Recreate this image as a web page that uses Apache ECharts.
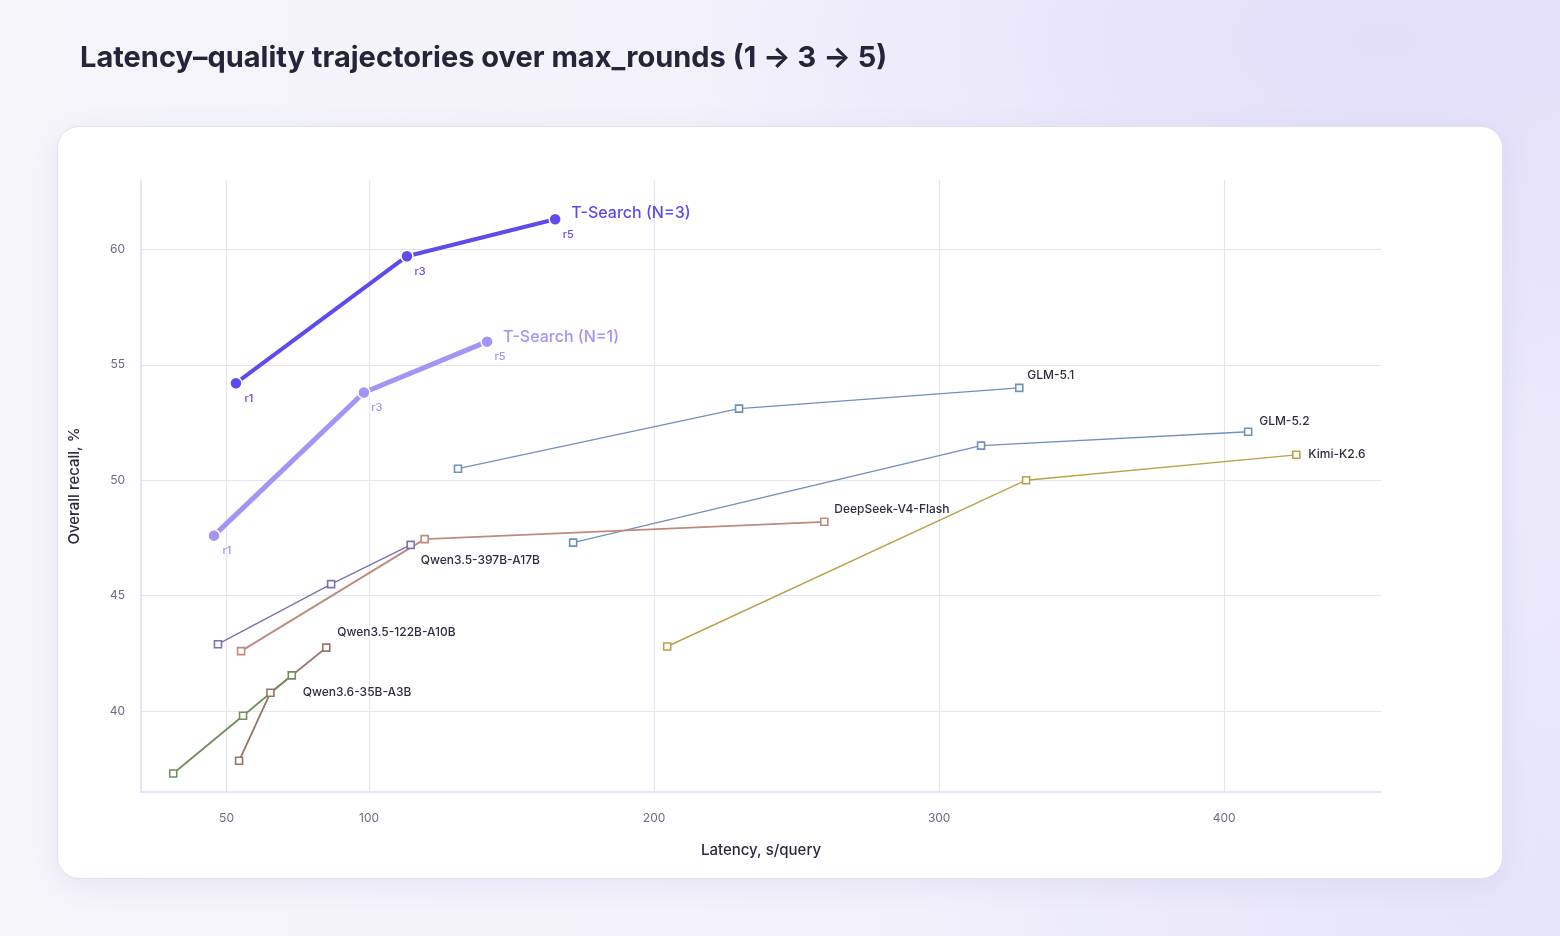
<!DOCTYPE html>
<html>
<head>
<meta charset="utf-8">
<script src="https://cdn.jsdelivr.net/npm/echarts@6/dist/echarts.min.js"></script>
<style>
  html, body { margin: 0; padding: 0; width: 1560px; height: 936px; overflow: hidden; }
  body {
    background:
      radial-gradient(ellipse 700px 420px at 1380px 40px, rgba(226,222,250,0.95), rgba(226,222,250,0) 100%),
      radial-gradient(ellipse 600px 400px at 1500px 900px, rgba(230,228,250,0.9), rgba(230,228,250,0) 100%),
      linear-gradient(90deg, #f5f5fa 0%, #f2f1fa 60%, #ebe9fa 100%);
    font-family: Inter, "Noto Sans", sans-serif;
  }
  #card {
    position: absolute; left: 57px; top: 126px; width: 1446px; height: 753px;
    background: #ffffff; border-radius: 22px; border: 1px solid #e2e1ef;
    box-sizing: border-box;
    box-shadow: 0 6px 28px rgba(120,110,200,0.10);
  }
  #chart { position: absolute; left: 0; top: 0; width: 1560px; height: 936px; }
</style>
</head>
<body>
<div id="card"></div>
<div id="chart"></div>
<script>
// ---- data ----
const roundLabels = ['r1', 'r3', 'r5'];

const tsearchN3Latency = [53.3, 113.3, 165.3];
const tsearchN3Recall  = [54.2, 59.7, 61.3];
const tsearchN1Latency = [45.6, 98.2, 141.4];
const tsearchN1Recall  = [47.6, 53.8, 56.0];

const glm51Latency = [131.2, 229.8, 328.1];
const glm51Recall  = [50.5, 53.1, 54.0];
const glm52Latency = [171.6, 314.7, 408.4];
const glm52Recall  = [47.3, 51.5, 52.1];
const kimiLatency  = [204.6, 330.5, 425.3];
const kimiRecall   = [42.8, 50.0, 51.1];
const deepseekLatency = [55.1, 119.5, 259.7];
const deepseekRecall  = [42.6, 47.45, 48.2];
const qwen397Latency = [47.0, 86.7, 114.6];
const qwen397Recall  = [42.9, 45.5, 47.2];
const qwen122Latency = [54.4, 65.4, 85.0];
const qwen122Recall  = [37.85, 40.8, 42.75];
const qwen35Latency  = [31.3, 55.8, 72.9];
const qwen35Recall   = [37.3, 39.8, 41.55];

const xTicks = [50, 100, 200, 300, 400];
const yTicks = [40, 45, 50, 55, 60];

// ---- helpers ----
const zip = (xs, ys) => xs.map((x, i) => [x, ys[i]]);

function tsearch(name, xs, ys, color, width, nameOffset) {
  return {
    name, type: 'line', z: 10,
    data: zip(xs, ys),
    symbol: 'circle', symbolSize: 12,
    lineStyle: { color, width },
    itemStyle: { color, borderColor: '#ffffff', borderWidth: 1.5 },
    label: {
      show: true, position: 'bottom', distance: 3, offset: [13, 0],
      formatter: p => roundLabels[p.dataIndex],
      color, fontSize: 11, fontFamily: 'Inter', fontWeight: 500
    },
    endLabel: {
      show: true, formatter: '{a}', distance: 0, offset: nameOffset,
      color, fontSize: 16, fontFamily: 'Inter', fontWeight: 500
    },
    emphasis: { disabled: true }
  };
}

function model(name, xs, ys, color, width, nameOffset) {
  return {
    name, type: 'line', z: 3,
    data: zip(xs, ys),
    symbol: 'rect', symbolSize: 7,
    lineStyle: { color, width },
    itemStyle: { color: '#ffffff', borderColor: color, borderWidth: 1.6 },
    endLabel: {
      show: true, formatter: '{a}', distance: 0, offset: nameOffset,
      color: '#2e2e40', fontSize: 12, fontFamily: 'Inter', fontWeight: 500
    },
    emphasis: { disabled: true }
  };
}

const chart = echarts.init(document.getElementById('chart'), null, { renderer: 'canvas' });
chart.setOption({
  animation: false,
  backgroundColor: 'transparent',
  title: {
    text: 'Latency\u2013quality trajectories over max_rounds (1 \u2192 3 \u2192 5)',
    left: 75, top: 39,
    textStyle: { fontFamily: 'Inter', fontSize: 29, fontWeight: 700, color: '#25253a' }
  },
  grid: { left: 141, right: 179, top: 180, bottom: 144, containLabel: false },
  xAxis: {
    type: 'value', min: 20, max: 455,
    name: 'Latency, s/query', nameLocation: 'middle', nameGap: 51,
    nameTextStyle: { fontFamily: 'Inter', fontSize: 15, fontWeight: 500, color: '#2a2a3e' },
    axisLine: { show: true, lineStyle: { color: '#dcdcee', width: 1.5 } },
    axisTick: { show: false, customValues: xTicks },
    axisLabel: { customValues: xTicks, margin: 20, fontFamily: 'Inter', fontSize: 12, color: '#6d6d82' },
    splitLine: { show: true, lineStyle: { color: '#e4e4f2', width: 1.2 } }
  },
  yAxis: {
    type: 'value', min: 36.5, max: 63,
    name: 'Overall recall, %', nameLocation: 'middle', nameGap: 59, nameRotate: 90,
    nameTextStyle: { fontFamily: 'Inter', fontSize: 15, fontWeight: 500, color: '#2a2a3e' },
    axisLine: { show: true, lineStyle: { color: '#dcdcee', width: 1.5 } },
    axisTick: { show: false, customValues: yTicks },
    axisLabel: { customValues: yTicks, margin: 16, fontFamily: 'Inter', fontSize: 12, color: '#6d6d82' },
    splitLine: { show: true, lineStyle: { color: '#e4e4f2', width: 1.2 } }
  },
  series: [
    model('GLM-5.1', glm51Latency, glm51Recall, '#7090bd', 1.4, [8, -12]),
    model('GLM-5.2', glm52Latency, glm52Recall, '#7090bd', 1.4, [11, -10]),
    model('Kimi-K2.6', kimiLatency, kimiRecall, '#b9a24a', 1.4, [12, 0]),
    model('DeepSeek-V4-Flash', deepseekLatency, deepseekRecall, '#bf8a7d', 1.8, [10, -12]),
    model('Qwen3.5-397B-A17B', qwen397Latency, qwen397Recall, '#7c75ad', 1.4, [10, 16]),
    model('Qwen3.5-122B-A10B', qwen122Latency, qwen122Recall, '#957469', 1.8, [11, -15]),
    model('Qwen3.6-35B-A3B', qwen35Latency, qwen35Recall, '#728d5c', 1.8, [11, 17]),
    tsearch('T-Search (N=1)', tsearchN1Latency, tsearchN1Recall, '#a394f6', 5, [16, -4]),
    tsearch('T-Search (N=3)', tsearchN3Latency, tsearchN3Recall, '#5c4cf0', 4, [16, -6])
  ]
});
</script>
</body>
</html>
